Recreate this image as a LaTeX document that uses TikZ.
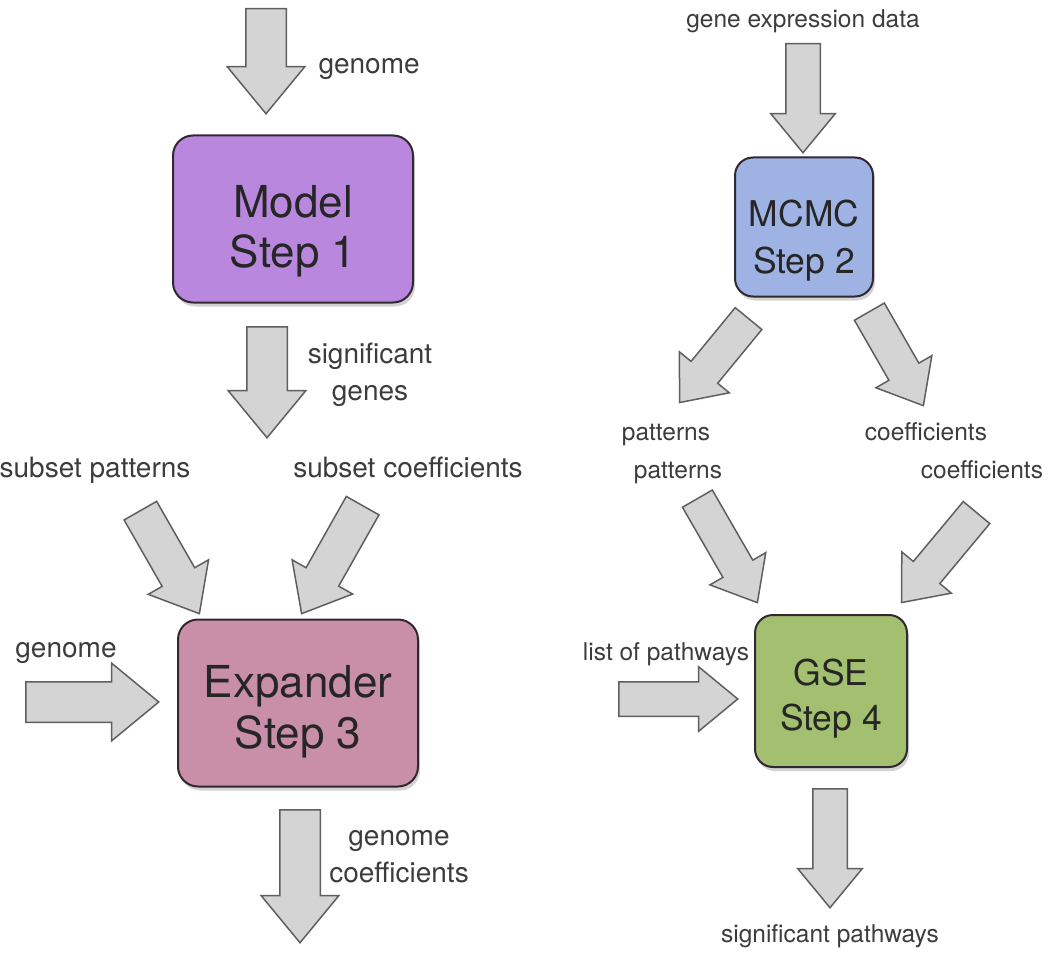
\documentclass[tikz,border=0pt]{standalone}
\usepackage{fontspec}
\setmainfont{TeX Gyre Heros}
\usetikzlibrary{positioning, calc, shapes.arrows, shadows}
\definecolor{modelpurple}{RGB}{185,136,222}
\definecolor{mcmcblue}{RGB}{158,178,228}
\definecolor{expandpink}{RGB}{201,142,168}
\definecolor{gsegreen}{RGB}{163,192,112}
\definecolor{arrowgray}{RGB}{212,212,212}
\definecolor{edgegray}{RGB}{95,95,95}
\definecolor{labelgray}{RGB}{60,60,60}
\definecolor{boxedge}{RGB}{50,40,50}

% fat arrow node from tail coordinate to tip coordinate
\newcommand{\fatarrow}[4][]{%
  \path let \p1=($(#4)-(#3)$), \n1={atan2(\y1,\x1)}, \n2={veclen(\x1,\y1)} in
    node[fatarrow, #1, minimum height=\n2, rotate=\n1, anchor=tail] (#2) at (#3) {};}

\begin{document}
\begin{tikzpicture}[
    x=1pt, y=-1pt,
    stepbox/.style={rectangle, draw=boxedge, line width=2pt, rounded corners=20pt, align=center, text=black!85,
        text depth=0pt, drop shadow={shadow xshift=2pt, shadow yshift=-4pt, opacity=0.35}},
    bigbox/.style={stepbox, minimum width=240pt, minimum height=167pt},
    smallbox/.style={stepbox, rounded corners=18pt},
    fatarrow/.style={single arrow, draw=edgegray, fill=arrowgray, line width=1.5pt, inner xsep=0pt,
        inner ysep=19.5pt, single arrow head extend=18.5pt, single arrow tip angle=79},
    slantarrow/.style={inner ysep=18pt, single arrow head extend=16pt},
    thinarrow/.style={inner ysep=16.5pt, single arrow head extend=15pt},
    lbl/.style={text=labelgray, anchor=base, align=center, font=\fontsize{28}{37}\selectfont},
    rlbl/.style={lbl, font=\fontsize{24.5}{38}\selectfont}
]
    \useasboundingbox (0,0) rectangle (1050,955);

    % steps
    \node[bigbox, fill=modelpurple, font=\fontsize{44}{50}\selectfont, text height=96pt] (model) at (293,219) {Model\\Step 1};
    \node[smallbox, fill=mcmcblue, minimum width=138pt, minimum height=139pt,
          font=\fontsize{35.5}{47}\selectfont, text height=92pt] (mcmc) at (804,227) {MCMC\\Step 2};
    \node[bigbox, fill=expandpink, font=\fontsize{44}{51}\selectfont, text height=90pt] (expander) at (298,703) {Expander\\Step 3};
    \node[smallbox, fill=gsegreen, minimum width=152pt, minimum height=152pt,
          font=\fontsize{35.5}{45}\selectfont, text height=78pt] (gse) at (831,691) {GSE\\Step 4};

    % arrow ends
    \coordinate (genomeTail) at (266,8);     \coordinate (genomeTip) at (266,113);
    \coordinate (sigTail) at (267,326);      \coordinate (sigTip) at (267,437);
    \coordinate (subpatTail) at (140,510);   \coordinate (subpatTip) at (199,613);
    \coordinate (subcoefTail) at (363,505);  \coordinate (subcoefTip) at (302,613);
    \coordinate (genleftTail) at (25,702);   \coordinate (genleftTip) at (158,702);
    \coordinate (gencoefTail) at (300,809);  \coordinate (gencoefTip) at (300,942);
    \coordinate (exprTail) at (803,43);      \coordinate (exprTip) at (803,152);
    \coordinate (patATail) at (749,318);     \coordinate (patATip) at (680,402);
    \coordinate (coefATail) at (869,311);    \coordinate (coefATip) at (923,405);
    \coordinate (patBTail) at (697,498);     \coordinate (patBTip) at (757,602);
    \coordinate (coefBTail) at (977,512);    \coordinate (coefBTip) at (902,602);
    \coordinate (pathTail) at (618,699);     \coordinate (pathTip) at (737,699);
    \coordinate (sigpathTail) at (830,788);  \coordinate (sigpathTip) at (830,907);

    % left branch
    \fatarrow{genomeIn}{genomeTail}{genomeTip}
    \fatarrow{sigGenes}{sigTail}{sigTip}
    \fatarrow[slantarrow]{subPat}{subpatTail}{subpatTip}
    \fatarrow[slantarrow]{subCoef}{subcoefTail}{subcoefTip}
    \fatarrow{genomeLeft}{genleftTail}{genleftTip}
    \fatarrow{genomeCoef}{gencoefTail}{gencoefTip}

    % right branch
    \fatarrow[thinarrow]{exprIn}{exprTail}{exprTip}
    \fatarrow[thinarrow]{patA}{patATail}{patATip}
    \fatarrow[thinarrow]{coefA}{coefATail}{coefATip}
    \fatarrow[thinarrow]{patB}{patBTail}{patBTip}
    \fatarrow[thinarrow]{coefB}{coefBTail}{coefBTip}
    \fatarrow[thinarrow]{pathIn}{pathTail}{pathTip}
    \fatarrow[thinarrow]{sigPath}{sigpathTail}{sigpathTip}

    % labels
    \node[lbl, anchor=base west] (lgenome) at (315,74) {genome};
    \node[lbl] (lsig) at (370,400) {significant\\genes};
    \node[lbl] (lsubpat) at (95,477) {subset patterns};
    \node[lbl] (lsubcoef) at (408,477) {subset coefficients};
    \node[lbl] (lgenleft) at (66,657) {genome};
    \node[lbl] (lgencoef) at (399,882) {genome\\coefficients};
    \node[rlbl] (lexpr) at (803,28) {gene expression data};
    \node[rlbl] (lpatA) at (666,440) {patterns};
    \node[rlbl] (lcoefA) at (926,440) {coefficients};
    \node[rlbl] (lpatB) at (678,478) {patterns};
    \node[rlbl] (lcoefB) at (982,478) {coefficients};
    \node[rlbl] (lpath) at (666,660) {list of pathways};
    \node[rlbl] (lsigpath) at (830,942) {significant pathways};
\end{tikzpicture}
\end{document}
